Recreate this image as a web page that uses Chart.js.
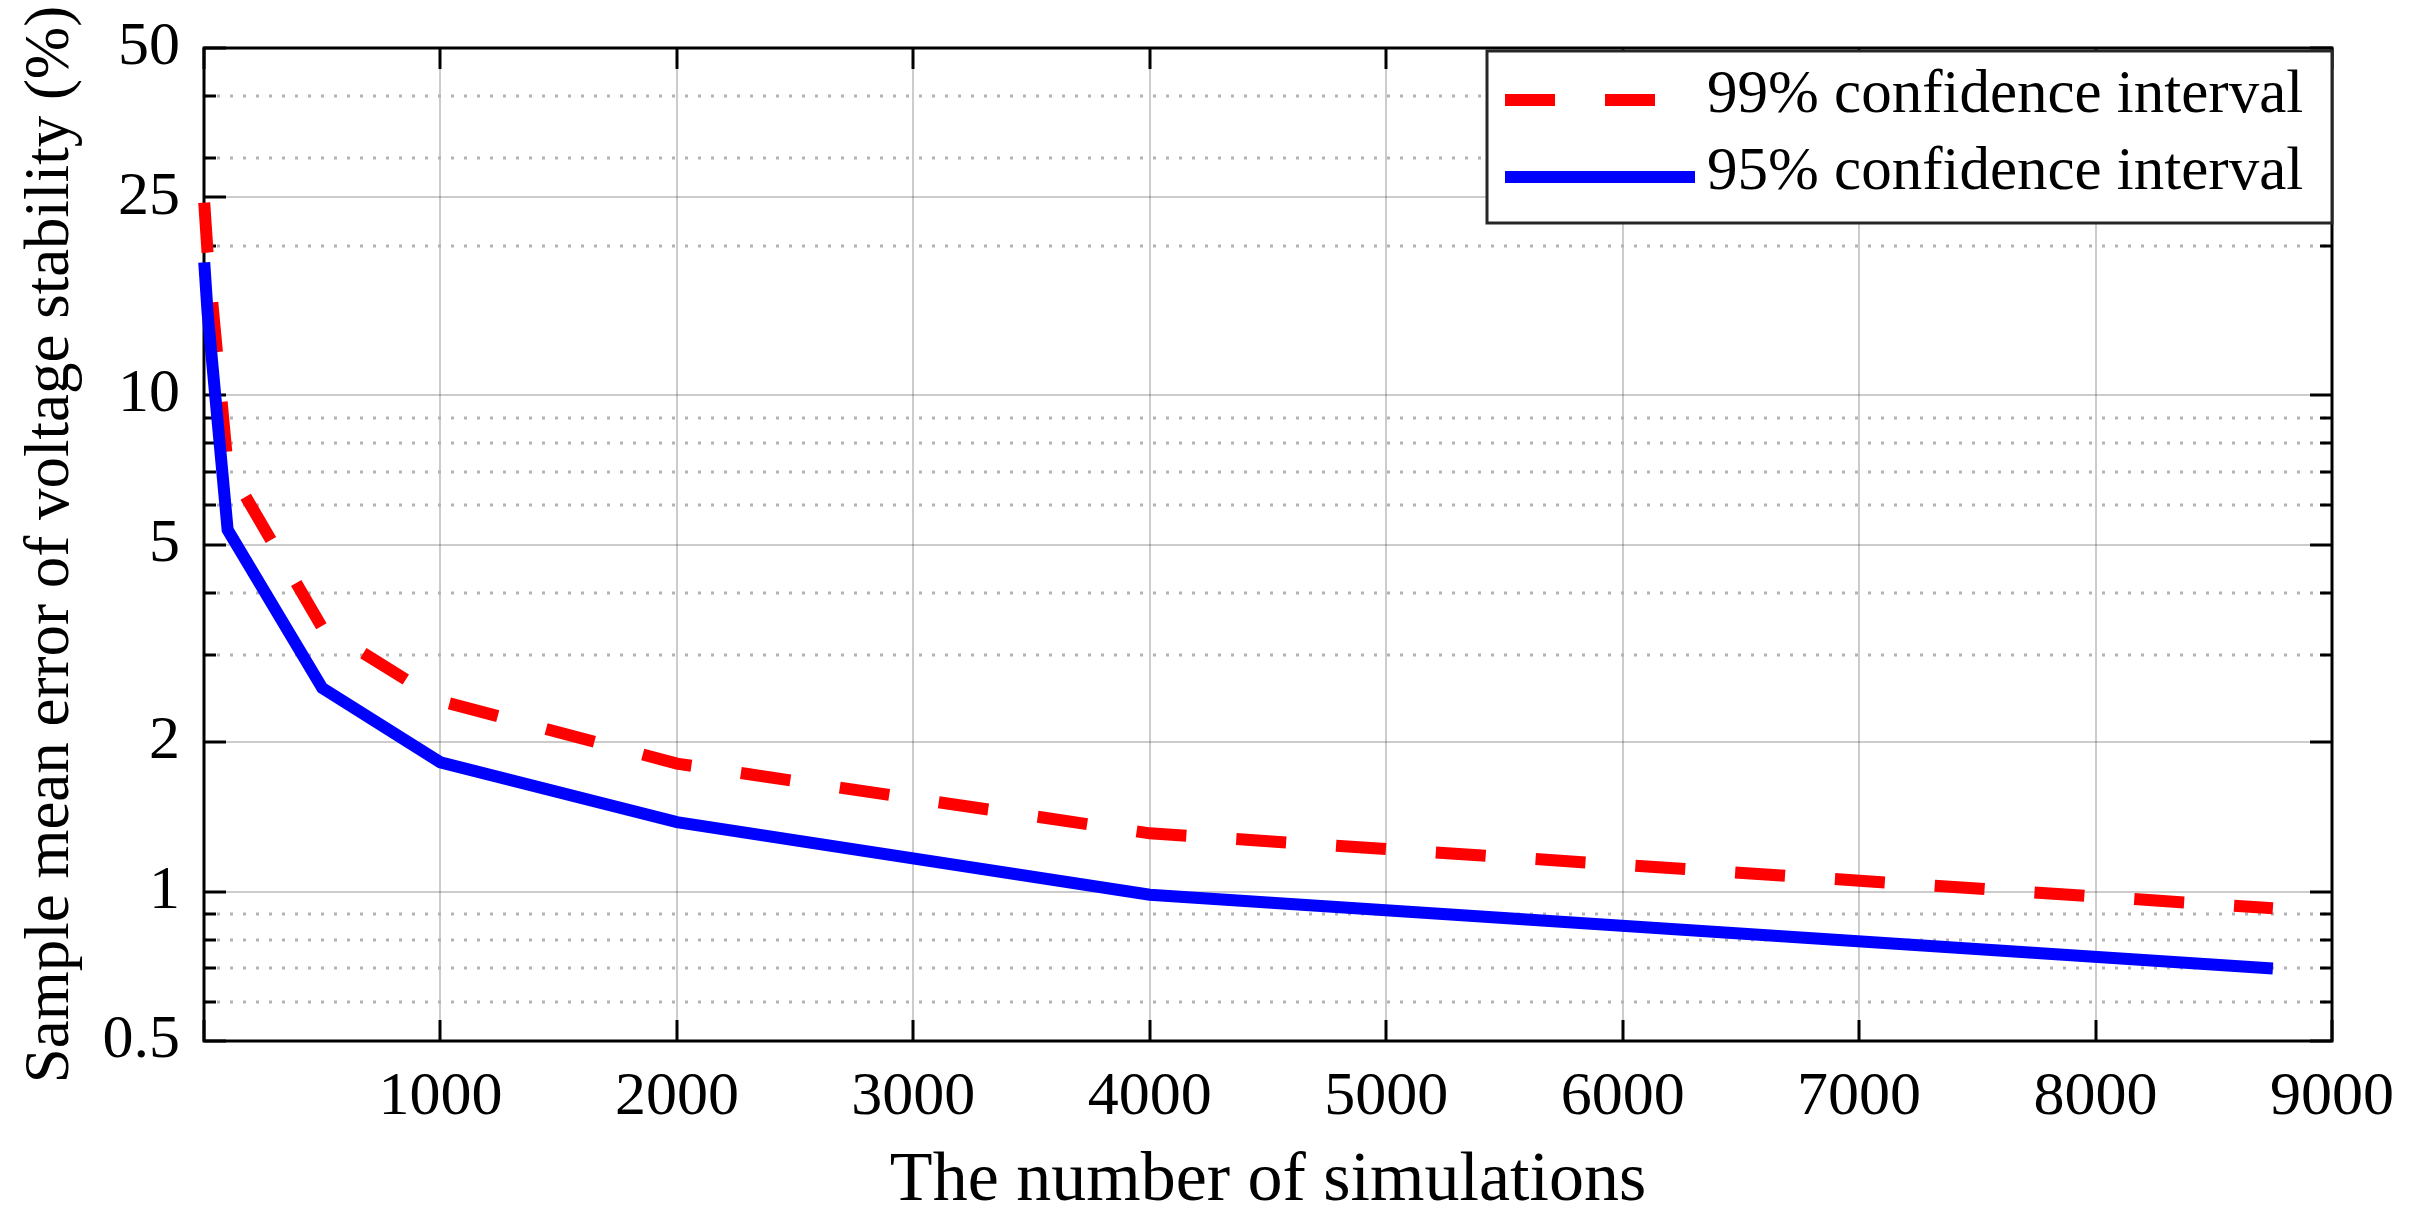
<!DOCTYPE html>
<html>
<head>
<meta charset="utf-8">
<script src="https://cdn.jsdelivr.net/npm/chart.js@4.4.1/dist/chart.umd.min.js"></script>
<style>
  html, body { margin: 0; padding: 0; background: #fff; }
  canvas { display: block; }
</style>
</head>
<body>
<canvas id="errChart" width="2409" height="1225"></canvas>
<script>
// number of simulations and sample mean error (%) for both intervals
const nSim  = [1, 15, 100, 500, 1000, 2000, 4000, 8750];
const err99 = [24.4, 19.4, 7.2, 3.4, 2.42, 1.81, 1.31, 0.925];
const err95 = [18.5, 14.7, 5.35, 2.57, 1.82, 1.38, 0.985, 0.70];

const yMajorTicks = [0.5, 1, 2, 5, 10, 25, 50];
const yMinorTicks = [0.6, 0.7, 0.8, 0.9, 3, 4, 6, 7, 8, 9, 20, 30, 40];
const xTicks = [0, 1000, 2000, 3000, 4000, 5000, 6000, 7000, 8000, 9000];

const xTitle = 'The number of simulations';
const yTitle = 'Sample mean error of voltage stability (%)';

const serif = '"Liberation Serif", "DejaVu Serif", serif';

// pick a font size so the text has the width seen in the original figure
const measure = document.createElement('canvas').getContext('2d');
function fitSize(text, width) {
  measure.font = '100px ' + serif;
  return Math.round(100 * width / measure.measureText(text).width);
}
const tickSize = fitSize('1000', 124);
const xTitleSize = fitSize(xTitle, 753);
const yTitleSize = fitSize(yTitle, 1080);
const legendSize = fitSize('99% confidence interval', 596);

// box, inward ticks and dotted minor grid, matlab style
const frame = {
  id: 'frame',
  beforeDatasetsDraw(chart) {
    const {ctx, chartArea: a, scales: {x, y}} = chart;
    const seg = (x1, y1, x2, y2) => { ctx.beginPath(); ctx.moveTo(x1, y1); ctx.lineTo(x2, y2); ctx.stroke(); };
    ctx.save();
    ctx.strokeStyle = '#b3b3b3';
    ctx.lineWidth = 3;
    ctx.setLineDash([3, 10]);
    yMinorTicks.forEach(v => {
      const py = Math.round(y.getPixelForValue(v));
      seg(a.left, py, a.right, py);
    });
    ctx.setLineDash([]);
    ctx.strokeStyle = '#000';
    ctx.lineWidth = 3;
    yMajorTicks.forEach(v => {
      const py = Math.round(y.getPixelForValue(v));
      seg(a.left, py, a.left + 22, py);
      seg(a.right, py, a.right - 22, py);
    });
    yMinorTicks.forEach(v => {
      const py = Math.round(y.getPixelForValue(v));
      seg(a.left, py, a.left + 12, py);
      seg(a.right, py, a.right - 12, py);
    });
    xTicks.forEach(v => {
      const px = Math.round(x.getPixelForValue(v));
      seg(px, a.bottom, px, a.bottom - 21);
      seg(px, a.top, px, a.top + 21);
    });
    ctx.strokeRect(a.left, a.top, a.right - a.left, a.bottom - a.top);
    ctx.restore();
  }
};

// legend box in the upper right corner
const boxLegend = {
  id: 'boxLegend',
  afterDatasetsDraw(chart) {
    const {ctx, chartArea: a} = chart;
    const bw = 845, bh = 172;
    const bx = a.right - bw, by = a.top + 3;
    ctx.save();
    ctx.fillStyle = '#fff';
    ctx.fillRect(bx, by, bw, bh);
    ctx.strokeStyle = '#262626';
    ctx.lineWidth = 3;
    ctx.strokeRect(bx, by, bw, bh);
    chart.data.datasets.forEach((ds, i) => {
      const ly = by + 49 + i * 77;
      ctx.strokeStyle = ds.borderColor;
      ctx.lineWidth = ds.borderWidth;
      ctx.setLineDash(ds.borderDash || []);
      ctx.beginPath();
      ctx.moveTo(bx + 18, ly);
      ctx.lineTo(bx + 208, ly);
      ctx.stroke();
      ctx.setLineDash([]);
      ctx.fillStyle = '#000';
      ctx.font = legendSize + 'px ' + serif;
      ctx.textBaseline = 'middle';
      ctx.fillText(ds.label, bx + 220, ly - 4);
    });
    ctx.restore();
  }
};

new Chart(document.getElementById('errChart'), {
  type: 'line',
  data: {
    datasets: [{
      label: '99% confidence interval',
      data: nSim.map((n, i) => ({x: n, y: err99[i]})),
      borderColor: '#ff0000',
      borderWidth: 12,
      borderDash: [50, 50],
      pointRadius: 0,
      fill: false,
      clip: false,
      order: 1
    }, {
      label: '95% confidence interval',
      data: nSim.map((n, i) => ({x: n, y: err95[i]})),
      borderColor: '#0000ff',
      borderWidth: 12,
      pointRadius: 0,
      fill: false,
      clip: false,
      order: 0
    }]
  },
  options: {
    responsive: false,
    animation: false,
    layout: { padding: { top: 48, right: 77, bottom: 0, left: 0 } },
    plugins: { legend: { display: false }, tooltip: { enabled: false } },
    scales: {
      x: {
        type: 'linear',
        min: 0,
        max: 9000,
        afterFit: s => { s.height = 184; s.paddingLeft = 0; s.paddingRight = 0; },
        afterBuildTicks: s => { s.ticks = xTicks.map(v => ({value: v})); },
        ticks: {
          padding: 20,
          color: '#000',
          font: { family: serif, size: tickSize },
          callback: v => v === 0 ? '' : String(v)
        },
        grid: { color: 'rgba(0,0,0,0.2)', lineWidth: 2, drawTicks: false },
        border: { display: false },
        title: {
          display: true,
          text: xTitle,
          color: '#000',
          font: { family: serif, size: xTitleSize },
          padding: { top: 0, bottom: 1 }
        }
      },
      y: {
        type: 'logarithmic',
        min: 0.5,
        max: 50,
        afterFit: s => { s.width = 204; s.paddingTop = 0; s.paddingBottom = 0; },
        afterBuildTicks: s => { s.ticks = yMajorTicks.map(v => ({value: v})); },
        ticks: {
          padding: 24,
          color: '#000',
          font: { family: serif, size: tickSize },
          callback: v => String(v)
        },
        grid: { color: 'rgba(0,0,0,0.2)', lineWidth: 2, drawTicks: false },
        border: { display: false },
        title: {
          display: true,
          text: yTitle,
          color: '#000',
          font: { family: serif, size: yTitleSize },
          padding: { top: 14, bottom: 0 }
        }
      }
    }
  },
  plugins: [frame, boxLegend]
});
</script>
</body>
</html>
